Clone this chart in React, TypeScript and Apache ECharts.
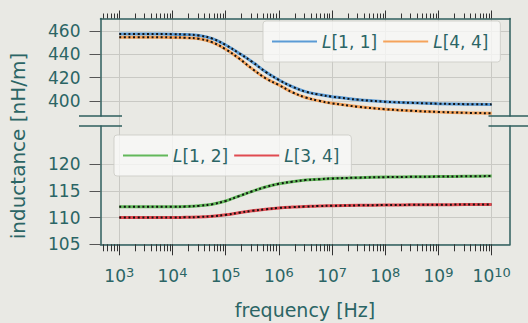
import React, { useEffect, useRef } from 'react';
import * as echarts from 'echarts';

// log10 of frequency [Hz] for the sampled points
const freqExp = [3, 3.5, 4, 4.25, 4.5, 4.75, 5, 5.25, 5.5, 5.75, 6, 6.25, 6.5, 6.75, 7, 7.5, 8, 8.5, 9, 9.5, 10];
const L11 = [457.4, 457.4, 457.3, 457.0, 456.2, 453.5, 448.0, 441.0, 433.5, 425.0, 418.0, 412.3, 408.0, 405.5, 403.7, 401.0, 399.4, 398.4, 397.7, 397.3, 397.1];
const L44 = [454.6, 454.6, 454.5, 454.2, 453.3, 450.3, 444.3, 436.5, 427.5, 419.5, 413.7, 407.5, 403.0, 400.2, 398.0, 395.0, 392.9, 391.6, 390.6, 389.9, 389.5];
const L12 = [112.0, 112.0, 112.0, 112.05, 112.2, 112.5, 113.1, 114.0, 114.9, 115.7, 116.3, 116.7, 117.0, 117.15, 117.3, 117.45, 117.55, 117.6, 117.65, 117.7, 117.75];
const L34 = [110.0, 110.0, 110.0, 110.05, 110.1, 110.25, 110.5, 110.9, 111.25, 111.55, 111.8, 111.95, 112.05, 112.15, 112.2, 112.28, 112.33, 112.37, 112.4, 112.42, 112.43];

const seriesNames = ['L[1, 1]', 'L[4, 4]', 'L[1, 2]', 'L[3, 4]'];
const majorExps = [3, 4, 5, 6, 7, 8, 9, 10];
const minorMults = [2, 3, 4, 5, 6, 7, 8, 9];
const minorDecades = [2, 3, 4, 5, 6, 7, 8, 9];
const upperTicks = [400, 420, 440, 460];
const lowerTicks = [105, 110, 115, 120];
const xTitle = 'frequency [Hz]';
const yTitle = 'inductance [nH/m]';

// layout / style
const W = 528, H = 323;
const GL = 100.5, GR = 510;
const T1 = 18.5, B1 = 116, T3 = 126, B3 = 244.3;
const X_MIN = 2.647, X_MAX = 10.344;
const U_MIN = 387.14, U_MAX = 470.71;
const D_MIN = 105, D_MAX = 127.1;
const BG = '#e9e9e4';
const TEAL = '#2b6565';
const SPINE = '#2e5e5e';
const GRIDC = '#c9c9c4';
const FONT = 'DejaVu Sans';
const COLORS = ['#5b9bd5', '#f5a35b', '#62b85a', '#e04a50'];

export default function App() {
  const ref = useRef<HTMLDivElement>(null);
  useEffect(() => {
    if (!ref.current) return;
    const chart = echarts.init(ref.current, undefined, { renderer: 'svg' });
    const minors = minorDecades
      .flatMap((d) => minorMults.map((m) => d + Math.log10(m)))
      .filter((v) => v >= X_MIN && v <= X_MAX);

    const split = { show: true, lineStyle: { color: GRIDC, width: 1 } };
    const spineLine = { show: true, onZero: false, lineStyle: { color: SPINE, width: 1.5 } };
    const xBase = { type: 'value', min: X_MIN, max: X_MAX };
    const tickStyle = { color: '#333', width: 1 };

    const lineSeries = (i: number, ys: number[], xi: number, yi: number) => ({
      type: 'line', name: seriesNames[i], xAxisIndex: xi, yAxisIndex: yi,
      data: freqExp.map((e, k) => [e, ys[k]]),
      symbol: 'none', showSymbol: false, smooth: 0.4, z: 2,
      lineStyle: { color: COLORS[i], width: 3 }, itemStyle: { color: COLORS[i] },
    });
    const dotSeries = (i: number, ys: number[], xi: number, yi: number) => ({
      type: 'line', name: 'fit ' + seriesNames[i], xAxisIndex: xi, yAxisIndex: yi,
      data: freqExp.map((e, k) => [e, ys[k]]),
      symbol: 'none', showSymbol: false, smooth: 0.4, z: 3, silent: true,
      lineStyle: { color: '#111', width: 2, type: [2, 2.6], cap: 'butt' },
    });

    const legendBase = {
      orient: 'horizontal', padding: [10, 12, 10, 9], itemGap: 6, itemWidth: 45, itemHeight: 2,
      icon: 'rect',
      backgroundColor: 'rgba(250,250,248,0.78)', borderColor: 'rgba(205,205,200,0.9)', borderWidth: 1, borderRadius: 3,
      formatter: (n: string) => '{i|' + n.slice(0, 1) + '}{n|' + n.slice(1) + '}',
      textStyle: {
        color: TEAL, fontFamily: FONT, fontSize: 17, lineHeight: 21,
        rich: {
          i: { fontStyle: 'italic', fontFamily: FONT, fontSize: 17, color: TEAL, lineHeight: 21 },
          n: { fontFamily: FONT, fontSize: 17, color: TEAL, lineHeight: 21 },
        },
      },
    };

    const breakLines = [B1, T3].flatMap((y) =>
      [GL, GR].map((x) => ({
        type: 'line', z: 100,
        shape: { x1: x - 21.5, y1: y, x2: x + 21.5, y2: y },
        style: { stroke: SPINE, lineWidth: 1.5 },
      }))
    );

    chart.setOption({
      animation: false,
      backgroundColor: BG,
      grid: [
        { left: GL, top: T1, width: GR - GL, height: B1 - T1, outerBoundsMode: 'none' },
        { left: GL, top: B1, width: GR - GL, height: T3 - B1, outerBoundsMode: 'none' },
        { left: GL, top: T3, width: GR - GL, height: B3 - T3, outerBoundsMode: 'none' },
      ],
      xAxis: [
        { ...xBase, gridIndex: 0, position: 'top', axisLine: spineLine,
          axisTick: { show: true, customValues: majorExps, length: 8, lineStyle: tickStyle },
          axisLabel: { show: false }, splitLine: split },
        { ...xBase, gridIndex: 0, position: 'top', axisLine: { show: false },
          axisTick: { show: true, customValues: minors, length: 5, lineStyle: tickStyle },
          axisLabel: { show: false }, splitLine: { show: false } },
        { ...xBase, gridIndex: 1, axisLine: { show: false },
          axisTick: { show: false, customValues: majorExps },
          axisLabel: { show: false }, splitLine: split },
        { ...xBase, gridIndex: 2, position: 'bottom', axisLine: spineLine,
          axisTick: { show: true, customValues: majorExps, length: 11, lineStyle: tickStyle },
          axisLabel: {
            customValues: majorExps, margin: 22,
            formatter: (v: number) => '{b|10}{s|' + Math.round(v) + '}',
            rich: {
              b: { fontFamily: FONT, fontSize: 17, color: TEAL, lineHeight: 20 },
              s: { fontFamily: FONT, fontSize: 13, color: TEAL, lineHeight: 10, verticalAlign: 'top' },
            },
          },
          splitLine: split },
        { ...xBase, gridIndex: 2, position: 'bottom', axisLine: { show: false },
          axisTick: { show: true, customValues: minors, length: 7, lineStyle: tickStyle },
          axisLabel: { show: false }, splitLine: { show: false } },
      ],
      yAxis: [
        { type: 'value', gridIndex: 0, position: 'left', min: U_MIN, max: U_MAX, axisLine: spineLine,
          axisTick: { show: true, customValues: upperTicks, length: 11, lineStyle: { color: '#555', width: 1 } },
          axisLabel: { customValues: upperTicks, margin: 20, fontFamily: FONT, fontSize: 17, color: TEAL },
          splitLine: split },
        { type: 'value', gridIndex: 0, position: 'right', min: U_MIN, max: U_MAX, axisLine: spineLine,
          axisTick: { show: false }, axisLabel: { show: false }, splitLine: { show: false } },
        { type: 'value', gridIndex: 1, min: 0, max: 1, show: false, splitLine: { show: false } },
        { type: 'value', gridIndex: 2, position: 'left', min: D_MIN, max: D_MAX, axisLine: spineLine,
          axisTick: { show: true, customValues: lowerTicks, length: 11, lineStyle: { color: '#555', width: 1 } },
          axisLabel: { customValues: lowerTicks, margin: 20, fontFamily: FONT, fontSize: 17, color: TEAL },
          splitLine: split },
        { type: 'value', gridIndex: 2, position: 'right', min: D_MIN, max: D_MAX, axisLine: spineLine,
          axisTick: { show: false }, axisLabel: { show: false }, splitLine: { show: false } },
      ],
      legend: [
        { ...legendBase, data: [seriesNames[0], seriesNames[1]], left: 263, top: 21 },
        { ...legendBase, data: [seriesNames[2], seriesNames[3]], left: 114, top: 135 },
      ],
      series: [
        lineSeries(0, L11, 0, 0), lineSeries(1, L44, 0, 0),
        lineSeries(2, L12, 3, 3), lineSeries(3, L34, 3, 3),
        dotSeries(0, L11, 0, 0), dotSeries(1, L44, 0, 0),
        dotSeries(2, L12, 3, 3), dotSeries(3, L34, 3, 3),
      ],
      graphic: [
        ...breakLines,
        { type: 'text', x: 305, y: 310, z: 100,
          style: { text: xTitle, fill: TEAL, fontFamily: FONT, fontSize: 19, textAlign: 'center', textVerticalAlign: 'middle' } },
        { type: 'text', x: 18, y: 146, rotation: Math.PI / 2, z: 100,
          style: { text: yTitle, fill: TEAL, fontFamily: FONT, fontSize: 20, textAlign: 'center', textVerticalAlign: 'middle' } },
      ],
    } as any);
    return () => chart.dispose();
  }, []);
  return <div ref={ref} style={{ position: 'fixed', left: 0, top: 0, width: W, height: H }} />;
}
